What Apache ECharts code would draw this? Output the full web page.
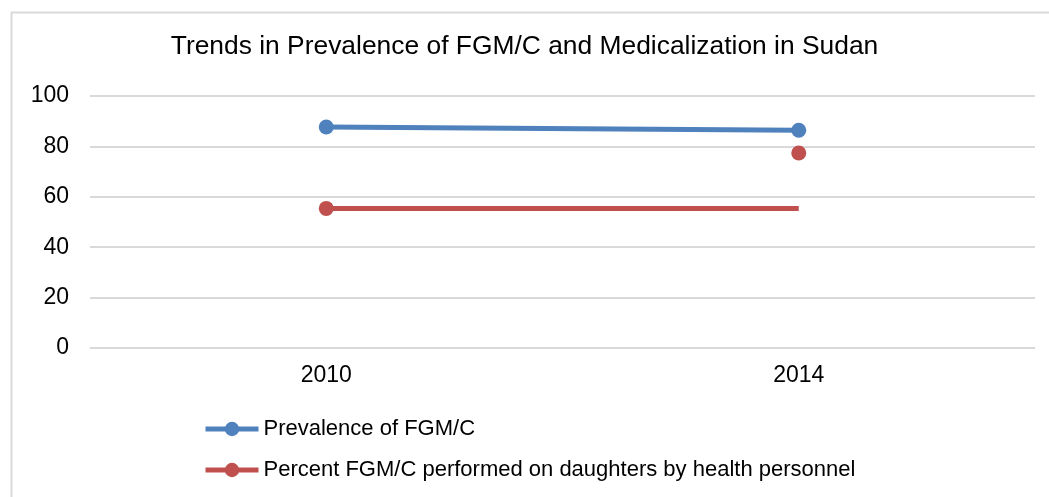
<!DOCTYPE html>
<html>
<head>
<meta charset="utf-8">
<script src="https://cdn.jsdelivr.net/npm/echarts@6/dist/echarts.min.js"></script>
<style>html,body{margin:0;padding:0;background:#fff;}#chart{width:1049px;height:497px;}</style>
</head>
<body>
<div id="chart"></div>
<script>
const titleText = 'Trends in Prevalence of FGM/C and Medicalization in Sudan';
const categories = ['2010', '2014'];
const seriesNames = ['Prevalence of FGM/C', 'Percent FGM/C performed on daughters by health personnel'];
const prevalence = [87.7, 86.4];
const medicalizationPoints = [55.4, 77.4];
const medicalizationLine = [55.4, 55.4];
const yTicks = { min: 0, max: 100, interval: 20 };

const BLUE = '#4F81BD', RED = '#C0504D', GRID = '#D9D9D9';
const FONT = 'Liberation Sans';

const chart = echarts.init(document.getElementById('chart'), null, { renderer: 'canvas' });
chart.setOption({
  animation: false,
  backgroundColor: '#fff',
  textStyle: { fontFamily: FONT },
  graphic: [{
    type: 'rect', left: 9, top: 10, silent: true,
    shape: { x: 0, y: 0, width: 1060, height: 510 },
    style: { fill: 'none', stroke: GRID, lineWidth: 2 }
  }],
  title: {
    text: titleText, left: 'center', top: 29,
    textStyle: { fontFamily: FONT, fontSize: 26.4, fontWeight: 'normal', color: '#000' }
  },
  grid: { left: 90, right: 14, top: 96, bottom: 149, containLabel: false },
  xAxis: {
    type: 'category', data: categories, boundaryGap: true,
    axisLine: { show: true, lineStyle: { color: GRID, width: 1 } },
    axisTick: { show: false },
    axisLabel: { fontFamily: FONT, fontSize: 23, color: '#000', margin: 16 }
  },
  yAxis: {
    type: 'value', min: yTicks.min, max: yTicks.max, interval: yTicks.interval,
    axisLine: { show: false }, axisTick: { show: false },
    splitLine: { lineStyle: { color: GRID, width: 2 } },
    axisLabel: { fontFamily: FONT, fontSize: 23, color: '#000', margin: 21 }
  },
  legend: {
    orient: 'vertical', left: 198, top: 413, itemGap: 19,
    itemWidth: 53, itemHeight: 18,
    textStyle: { fontFamily: FONT, fontSize: 22, color: '#000' },
    data: [
      { name: seriesNames[0], lineStyle: { color: BLUE, width: 5, opacity: 1 } },
      { name: seriesNames[1], lineStyle: { color: RED, width: 5, opacity: 1 } }
    ]
  },
  series: [
    {
      name: seriesNames[0], type: 'line', data: prevalence,
      symbol: 'circle', symbolSize: 15,
      lineStyle: { color: BLUE, width: 5 }, itemStyle: { color: BLUE }
    },
    {
      name: '', type: 'line', data: medicalizationLine,
      showSymbol: false, symbol: 'none',
      lineStyle: { color: RED, width: 5 }, itemStyle: { color: RED }
    },
    {
      name: seriesNames[1], type: 'line', data: medicalizationPoints,
      symbol: 'circle', symbolSize: 15,
      lineStyle: { color: RED, width: 0, opacity: 0 }, itemStyle: { color: RED }
    }
  ]
});
</script>
</body>
</html>
